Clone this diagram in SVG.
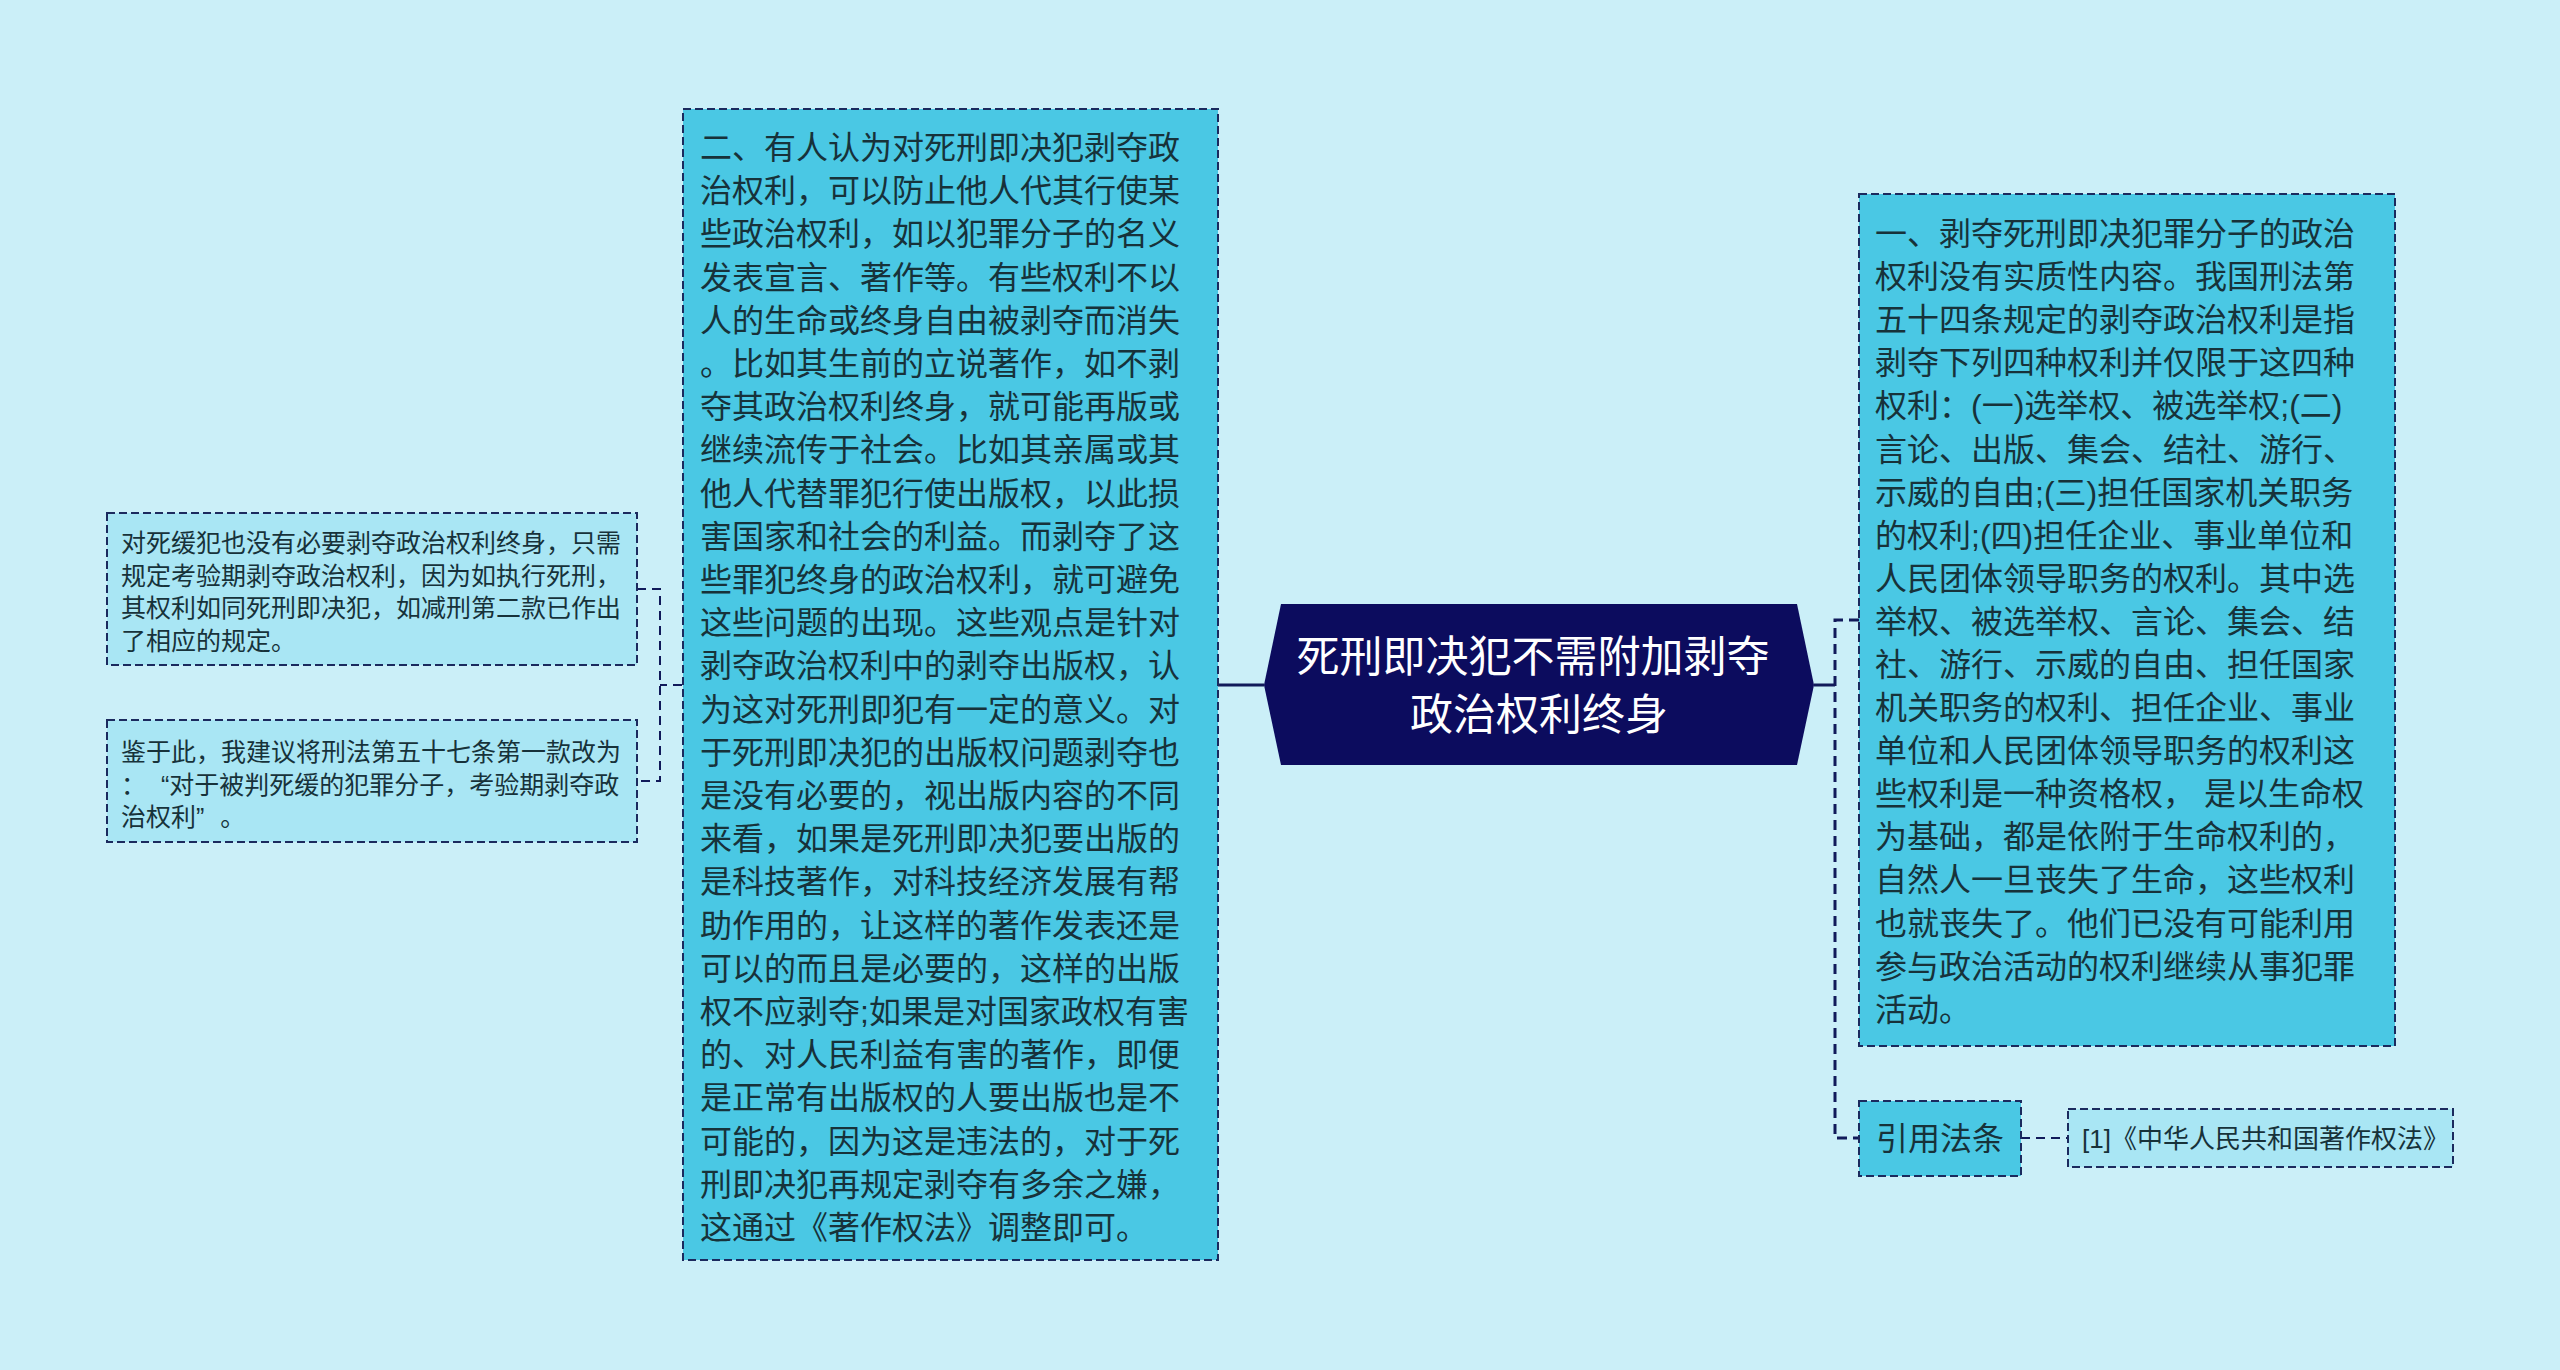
<svg xmlns="http://www.w3.org/2000/svg" width="2560" height="1370" viewBox="0 0 2560 1370">
<style>
.bg{fill:#cbeff8}
.big{fill:#4ac8e4;stroke:#1b2a5e;stroke-width:2;stroke-dasharray:8 4}
.small{fill:#a9e6f4;stroke:#1b2a5e;stroke-width:2;stroke-dasharray:8 4}
.t{font-family:'Liberation Sans','Noto Sans CJK SC',sans-serif;fill:#17323a}
.t32{font-size:32px}
.t25{font-size:25px}
.conS{fill:none;stroke:#111a5a;stroke-width:3}
.conD{fill:none;stroke:#111a5a;stroke-width:3;stroke-dasharray:10 6}
.conD2{fill:none;stroke:#111a5a;stroke-width:2;stroke-dasharray:9 6}
</style>
<rect class="bg" x="0" y="0" width="2560" height="1370"/>

<g id="connectors">
  <path class="conS" d="M1218,685 H1264"/>
  <path class="conS" d="M1814,685 H1835"/>
  <path class="conD2" d="M682,685 H660"/>
  <path class="conD2" d="M637,589 H660 V781 H637"/>
  <path class="conD" d="M1859,620 H1835 V1138 H1858"/>
  <path class="conD2" d="M2021,1138 H2068"/>
</g>

<g id="center">
  <polygon points="1281,604 1797,604 1814,685 1797,765 1281,765 1264,685" fill="#0c0c5e"/>
  <text class="t" style="fill:#ffffff" font-size="43" text-anchor="middle">
    <tspan x="1539" y="672">死刑即决犯不需附加剥夺</tspan>
    <tspan x="1539" y="730">政治权利终身</tspan>
  </text>
</g>

<g id="left-main">
  <rect class="big" x="683" y="109" width="535" height="1151"/>
  <text class="t t32">
    <tspan x="700" y="159">二、有人认为对死刑即决犯剥夺政</tspan>
    <tspan x="700" dy="43.2">治权利，可以防止他人代其行使某</tspan>
    <tspan x="700" dy="43.2">些政治权利，如以犯罪分子的名义</tspan>
    <tspan x="700" dy="43.2">发表宣言、著作等。有些权利不以</tspan>
    <tspan x="700" dy="43.2">人的生命或终身自由被剥夺而消失</tspan>
    <tspan x="700" dy="43.2">。比如其生前的立说著作，如不剥</tspan>
    <tspan x="700" dy="43.2">夺其政治权利终身，就可能再版或</tspan>
    <tspan x="700" dy="43.2">继续流传于社会。比如其亲属或其</tspan>
    <tspan x="700" dy="43.2">他人代替罪犯行使出版权，以此损</tspan>
    <tspan x="700" dy="43.2">害国家和社会的利益。而剥夺了这</tspan>
    <tspan x="700" dy="43.2">些罪犯终身的政治权利，就可避免</tspan>
    <tspan x="700" dy="43.2">这些问题的出现。这些观点是针对</tspan>
    <tspan x="700" dy="43.2">剥夺政治权利中的剥夺出版权，认</tspan>
    <tspan x="700" dy="43.2">为这对死刑即犯有一定的意义。对</tspan>
    <tspan x="700" dy="43.2">于死刑即决犯的出版权问题剥夺也</tspan>
    <tspan x="700" dy="43.2">是没有必要的，视出版内容的不同</tspan>
    <tspan x="700" dy="43.2">来看，如果是死刑即决犯要出版的</tspan>
    <tspan x="700" dy="43.2">是科技著作，对科技经济发展有帮</tspan>
    <tspan x="700" dy="43.2">助作用的，让这样的著作发表还是</tspan>
    <tspan x="700" dy="43.2">可以的而且是必要的，这样的出版</tspan>
    <tspan x="700" dy="43.2">权不应剥夺;如果是对国家政权有害</tspan>
    <tspan x="700" dy="43.2">的、对人民利益有害的著作，即便</tspan>
    <tspan x="700" dy="43.2">是正常有出版权的人要出版也是不</tspan>
    <tspan x="700" dy="43.2">可能的，因为这是违法的，对于死</tspan>
    <tspan x="700" dy="43.2">刑即决犯再规定剥夺有多余之嫌，</tspan>
    <tspan x="700" dy="43.2">这通过《著作权法》调整即可。</tspan>
  </text>
</g>

<g id="left-note-1">
  <rect class="small" x="107" y="513" width="530" height="152"/>
  <text class="t t25">
    <tspan x="121" y="552">对死缓犯也没有必要剥夺政治权利终身，只需</tspan>
    <tspan x="121" dy="32.5">规定考验期剥夺政治权利，因为如执行死刑，</tspan>
    <tspan x="121" dy="32.5">其权利如同死刑即决犯，如减刑第二款已作出</tspan>
    <tspan x="121" dy="32.5">了相应的规定。</tspan>
  </text>
</g>

<g id="left-note-2">
  <rect class="small" x="107" y="720" width="530" height="122"/>
  <text class="t t25">
    <tspan x="121" y="761">鉴于此，我建议将刑法第五十七条第一款改为</tspan>
    <tspan x="121" y="793.5">：<tspan dx="15">“</tspan>对于被判死缓的犯罪分子，考验期剥夺政</tspan>
    <tspan x="121" y="826">治权利”<tspan dx="16">。</tspan></tspan>
  </text>
</g>

<g id="right-main">
  <rect class="big" x="1859" y="194" width="536" height="852"/>
  <text class="t t32">
    <tspan x="1875" y="245">一、剥夺死刑即决犯罪分子的政治</tspan>
    <tspan x="1875" dy="43.1">权利没有实质性内容。我国刑法第</tspan>
    <tspan x="1875" dy="43.1">五十四条规定的剥夺政治权利是指</tspan>
    <tspan x="1875" dy="43.1">剥夺下列四种权利并仅限于这四种</tspan>
    <tspan x="1875" dy="43.1">权利：(一)选举权、被选举权;(二)</tspan>
    <tspan x="1875" dy="43.1">言论、出版、集会、结社、游行、</tspan>
    <tspan x="1875" dy="43.1">示威的自由;(三)担任国家机关职务</tspan>
    <tspan x="1875" dy="43.1">的权利;(四)担任企业、事业单位和</tspan>
    <tspan x="1875" dy="43.1">人民团体领导职务的权利。其中选</tspan>
    <tspan x="1875" dy="43.1">举权、被选举权、言论、集会、结</tspan>
    <tspan x="1875" dy="43.1">社、游行、示威的自由、担任国家</tspan>
    <tspan x="1875" dy="43.1">机关职务的权利、担任企业、事业</tspan>
    <tspan x="1875" dy="43.1">单位和人民团体领导职务的权利这</tspan>
    <tspan x="1875" dy="43.1">些权利是一种资格权， 是以生命权</tspan>
    <tspan x="1875" dy="43.1">为基础，都是依附于生命权利的，</tspan>
    <tspan x="1875" dy="43.1">自然人一旦丧失了生命，这些权利</tspan>
    <tspan x="1875" dy="43.1">也就丧失了。他们已没有可能利用</tspan>
    <tspan x="1875" dy="43.1">参与政治活动的权利继续从事犯罪</tspan>
    <tspan x="1875" dy="43.1">活动。</tspan>
  </text>
</g>

<g id="cite-label">
  <rect class="big" x="1859" y="1101" width="162" height="75"/>
  <text class="t t32" x="1940" y="1150" text-anchor="middle">引用法条</text>
</g>

<g id="cite-item">
  <rect class="small" x="2068" y="1109" width="385" height="58"/>
  <text class="t" font-size="26" x="2082" y="1148">[1]《中华人民共和国著作权法》</text>
</g>
</svg>
